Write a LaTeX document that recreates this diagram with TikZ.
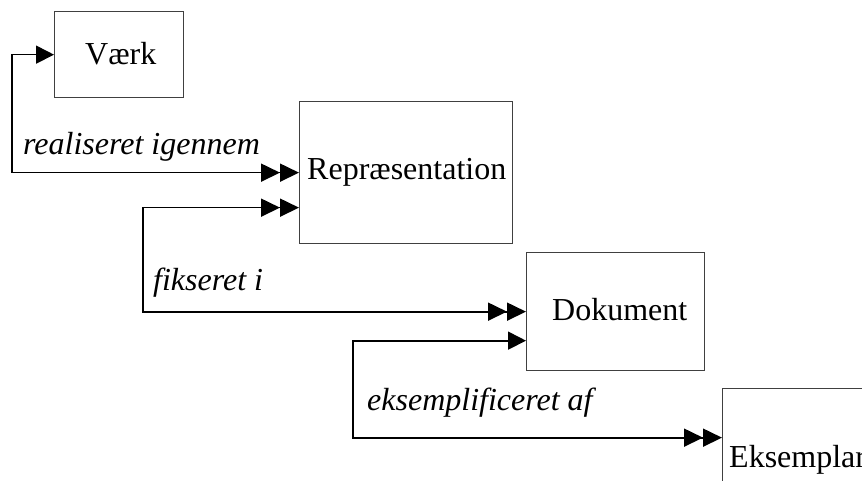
\documentclass[tikz,border=0pt]{standalone}
\usepackage{fontspec}
\setmainfont{Liberation Serif}
\usetikzlibrary{arrows.meta,calc}
\tikzset{
  box/.style={draw=black!75, line width=1.3pt, inner sep=0pt, anchor=north west},
  lbl/.style={inner sep=0pt, anchor=base west, font=\fontsize{32}{38}\selectfont},
  rel/.style={inner sep=0pt, anchor=base west, font=\fontsize{32}{38}\selectfont\itshape},
  conn/.style={line width=1.7pt, black},
  onetwo/.style={arrows={Triangle[length=18pt,width=18pt]-Triangle[length=19pt,width=18pt]Triangle[length=19pt,width=18pt]}},
  twotwo/.style={arrows={Triangle[length=19pt,width=18pt]Triangle[length=19pt,width=18pt]-Triangle[length=19pt,width=18pt]Triangle[length=19pt,width=18pt]}},
}
\begin{document}
\begin{tikzpicture}[x=1pt,y=-1pt]
\useasboundingbox (0,0) rectangle (862,481);
\clip (0,0) rectangle (862,481);
% boxes
\node[box, minimum width=129pt, minimum height=86pt] (Vaerk) at (54,11) {};
\node[box, minimum width=213pt, minimum height=142pt] (Repr) at (299,101) {};
\node[box, minimum width=178pt, minimum height=118pt] (Dok) at (526,252) {};
\node[box, minimum width=200pt, minimum height=98pt] (Eks) at (722,388) {};
% texts
\node[lbl] (tV) at (85,65) {Værk};
\node[lbl] (tR) at (307,180) {Repræsentation};
\node[lbl] (tD) at (552,320) {Dokument};
\node[lbl] (tE) at (729,467) {Eksemplar};
\node[rel] (l1) at (23,155) {realiseret igennem};
\node[rel] (l2) at (153,290) {fikseret i};
\node[rel] (l3) at (367,410) {eksemplificeret af};
% connectors
\draw[conn, onetwo] (Vaerk.west) -- ++(-42,0) |- (Repr.west);
\draw[conn, twotwo] (Dok.west) -- ++(-383,0) |- ($(Repr.west)+(0,35)$);
\draw[conn, onetwo] ($(Dok.west)+(0,29)$) -- ++(-173,0) |- (Eks.west);
\end{tikzpicture}
\end{document}
